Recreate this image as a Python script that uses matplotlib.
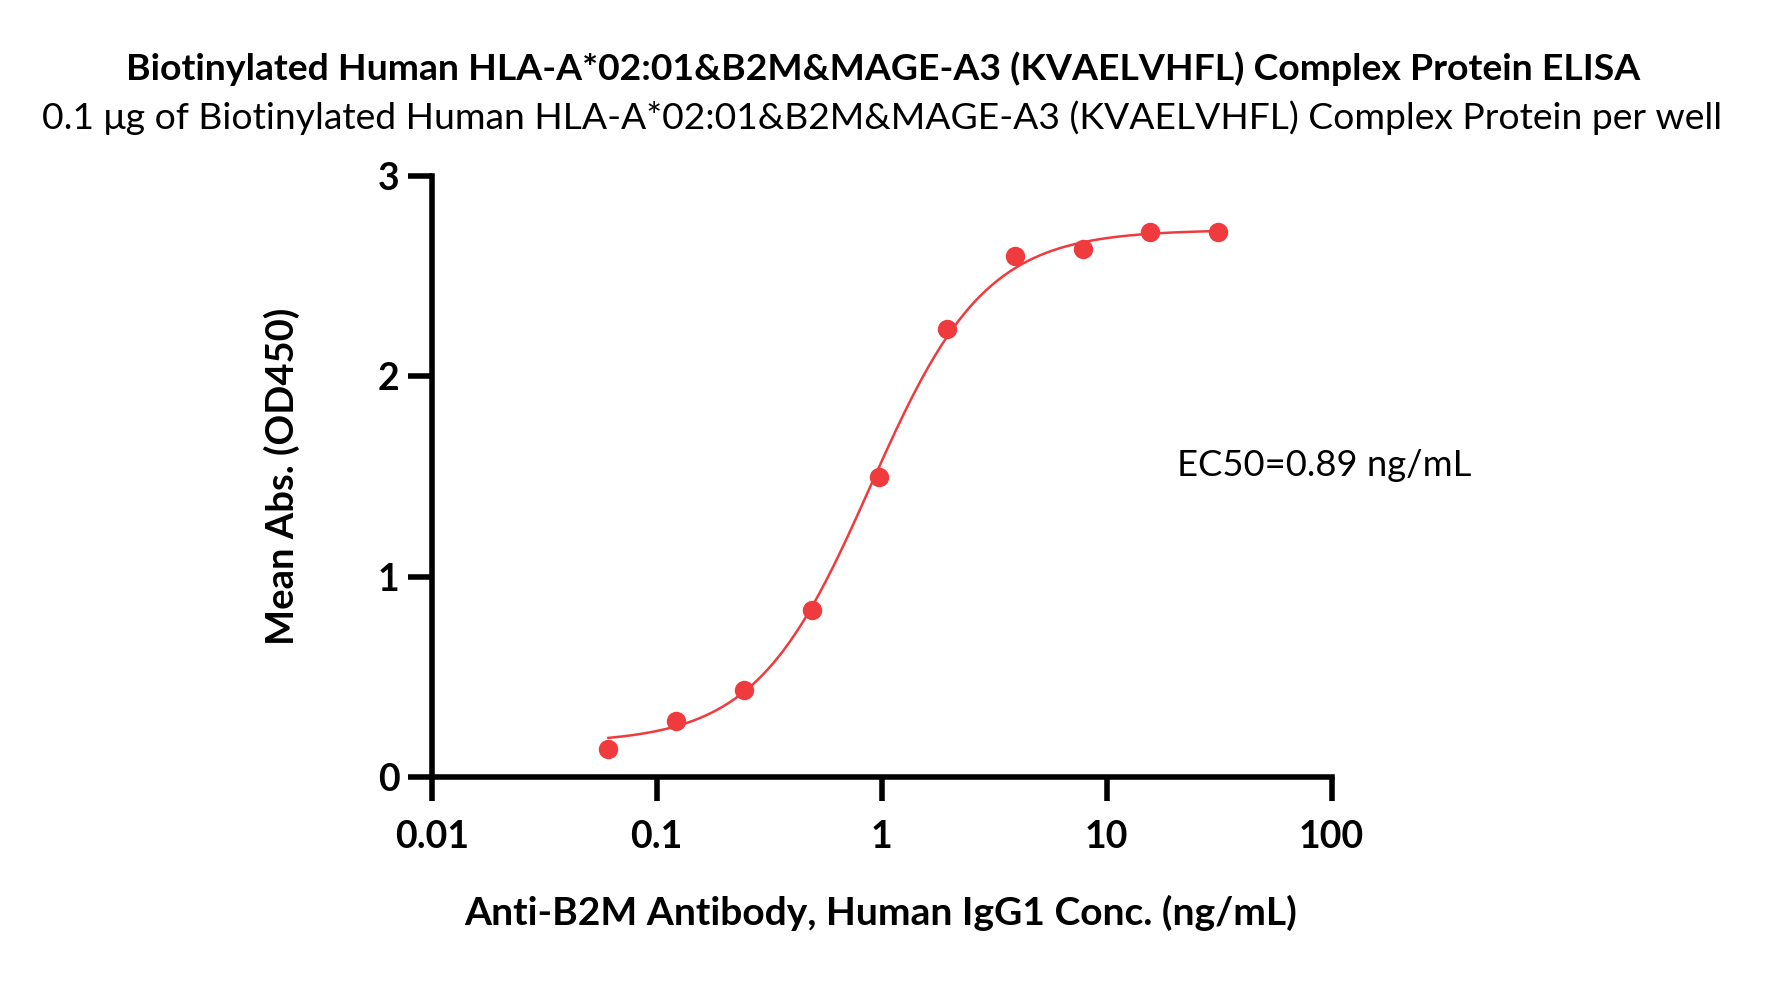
import numpy as np
import matplotlib
matplotlib.use("Agg")
import matplotlib.pyplot as plt
from matplotlib.ticker import FixedLocator, FixedFormatter, NullLocator

# ---- data ----
conc = [0.061, 0.122, 0.244, 0.488, 0.977, 1.953, 3.906, 7.813, 15.625, 31.25]
od450 = [0.14, 0.28, 0.435, 0.836, 1.50, 2.237, 2.60, 2.633, 2.718, 2.718]
# 4PL fit parameters
fit_bottom = 0.17
fit_top = 2.73
fit_ec50 = 0.89
fit_hill = 1.7
x_ticks = [0.01, 0.1, 1, 10, 100]
x_ticklabels = ["0.01", "0.1", "1", "10", "100"]
y_ticks = [0, 1, 2, 3]
y_ticklabels = ["0", "1", "2", "3"]
title = "Biotinylated Human HLA-A*02:01&B2M&MAGE-A3 (KVAELVHFL) Complex Protein ELISA"
subtitle = "0.1 \u03bcg of Biotinylated Human HLA-A*02:01&B2M&MAGE-A3 (KVAELVHFL) Complex Protein per well"
xlabel = "Anti-B2M Antibody, Human IgG1 Conc. (ng/mL)"
ylabel = "Mean Abs. (OD450)"
ec50_text = "EC50=0.89 ng/mL"

RED = "#EF3B3E"
W, H = 1767, 981
DPI = 100
plt.rcParams['font.family'] = ['Lato', 'DejaVu Sans']

fig = plt.figure(figsize=(W / DPI, H / DPI), dpi=DPI)
L, R, T, B = 431.7, 1331.7, 175.7, 777.3
ax = fig.add_axes([L / W, 1 - B / H, (R - L) / W, (B - T) / H])
ax.set_xscale('log')
ax.set_xlim(0.01, 100)
ax.set_ylim(0, 3)

xx = np.logspace(np.log10(conc[0]), np.log10(conc[-1]), 300)
yy = fit_bottom + (fit_top - fit_bottom) / (1 + (fit_ec50 / xx) ** fit_hill)
ax.plot(xx, yy, color=RED, lw=1.8, zorder=3)
ax.plot(conc, od450, 'o', color=RED, ms=14, mec='none', zorder=4, clip_on=False)

for s in ['top', 'right']:
    ax.spines[s].set_visible(False)
for s in ['left', 'bottom']:
    ax.spines[s].set_linewidth(4.0)
    ax.spines[s].set_capstyle('projecting')

ax.xaxis.set_major_locator(FixedLocator(x_ticks))
ax.xaxis.set_major_formatter(FixedFormatter(x_ticklabels))
ax.xaxis.set_minor_locator(NullLocator())
ax.yaxis.set_major_locator(FixedLocator(y_ticks))
ax.yaxis.set_major_formatter(FixedFormatter(y_ticklabels))
ax.tick_params(axis='both', which='major', length=17, width=4.0, labelsize=27, direction='out')
ax.tick_params(axis='x', pad=14)
ax.tick_params(axis='y', pad=6)
for lab in ax.get_xticklabels() + ax.get_yticklabels():
    lab.set_fontweight('bold')

renderer = fig.canvas.get_renderer()


def fit_text(x_px, y_px, s, target, size0=20, along='w', **kw):
    t = fig.text(x_px / W, 1 - y_px / H, s, fontsize=size0, **kw)
    bb = t.get_window_extent(renderer)
    cur = bb.width if along == 'w' else bb.height
    t.set_fontsize(size0 * target / cur)
    return t


fit_text(883.5, 68.7, title, 1516, weight='bold', ha='center', va='center')
fit_text(882, 118, subtitle, 1680, ha='center', va='center')
fit_text(881, 913, xlabel, 832, weight='bold', ha='center', va='center')
fit_text(282, 476, ylabel, 337, along='h', weight='bold', ha='center', va='center', rotation=90)
fit_text(1177, 465, ec50_text, 294, ha='left', va='center')

fig.savefig("out.png", dpi=DPI)
